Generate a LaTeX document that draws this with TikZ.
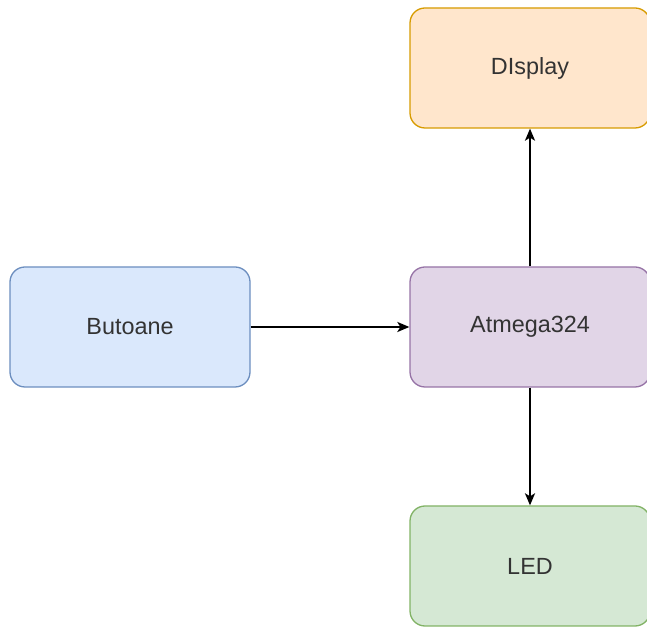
\documentclass[tikz,border=0pt]{standalone}
\usepackage{fontspec}
\setmainfont{Liberation Sans}
\usetikzlibrary{positioning,arrows.meta}

\definecolor{butfill}{HTML}{DAE8FC}
\definecolor{butline}{HTML}{6C8EBF}
\definecolor{atmfill}{HTML}{E1D5E7}
\definecolor{atmline}{HTML}{9673A6}
\definecolor{dispfill}{HTML}{FFE6CC}
\definecolor{displine}{HTML}{D79B00}
\definecolor{ledfill}{HTML}{D5E8D4}
\definecolor{ledline}{HTML}{82B366}
\definecolor{txtgray}{HTML}{333333}

\tikzset{
  block/.style={draw, rounded corners=15pt, minimum width=240pt, minimum height=120pt,
    line width=1.3pt, text=txtgray, font=\fontsize{23.4}{28}\selectfont}
}

\begin{document}
\begin{tikzpicture}[x=1pt,y=1pt,on grid,>={Stealth[length=12pt,width=10pt,inset=3pt]}]
  \useasboundingbox (0,0) rectangle (647,628);
  % Define blocks
  \node[block,fill=atmfill,draw=atmline] (atm) at (530,301) {Atmega324};
  \node[block,fill=dispfill,draw=displine] (disp) [above=259pt of atm] {DIsplay};
  \node[block,fill=ledfill,draw=ledline] (led) [below=239pt of atm] {LED};
  \node[block,fill=butfill,draw=butline] (but) [left=400pt of atm] {Butoane};
  % Connections
  \draw[->,line width=2pt] (but) -- (atm);
  \draw[->,line width=2pt] (atm) -- (disp);
  \draw[->,line width=2pt] (atm) -- (led);
\end{tikzpicture}
\end{document}
